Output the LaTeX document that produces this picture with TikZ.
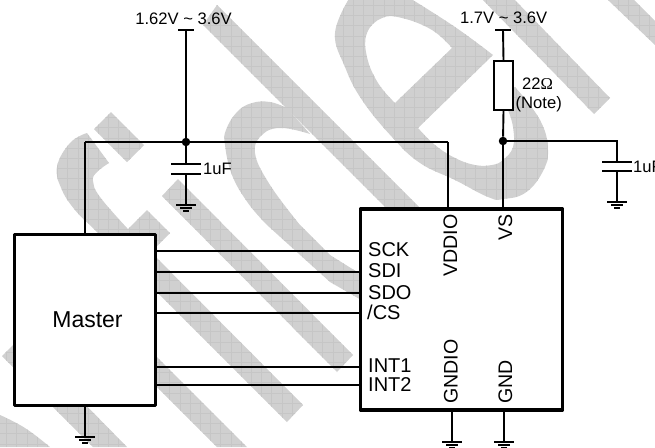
\documentclass[tikz,border=0pt]{standalone}
\usepackage{fontspec}
\setmainfont{Liberation Sans}
\newfontfamily\omegafont{Liberation Serif}
\newcommand{\tildesym}{\char"007E\relax}
\newcommand{\wmgrid}{%
  \foreach \i in {0,...,63}{\draw[wmline] ({6.6+10.2*\i},0) -- ({6.6+10.2*\i},447);}%
  \foreach \i in {0,...,43}{\draw[wmline] (0,{5.4+10.2*\i}) -- (655,{5.4+10.2*\i});}%
}
\newcommand{\wmshape}[1]{%
  \fill[wmfill,even odd rule] #1;%
  \begin{scope}[even odd rule]\clip #1;\wmgrid\end{scope}%
}
\newcommand{\gndsym}[1]{%
  \draw[gndline] ([xshift=-10pt]#1) -- ([xshift=10pt]#1);%
  \draw[gndline] ([xshift=-6pt,yshift=-3pt]#1) -- ([xshift=6pt,yshift=-3pt]#1);%
  \draw[gndline] ([xshift=-3pt,yshift=-6pt]#1) -- ([xshift=3pt,yshift=-6pt]#1);%
}
\newcommand{\capsym}[2]{%
  \draw[plate] ([xshift=-15pt]#1) -- ([xshift=15pt]#1);%
  \draw[plate] ([xshift=-15pt]#2) -- ([xshift=15pt]#2);%
}
\begin{document}
\begin{tikzpicture}[x=1pt,y=-1pt,
  wmfill/.style={fill={rgb,255:red,208;green,208;blue,208}},
  wmline/.style={draw={rgb,255:red,198;green,198;blue,198},line width=0.7pt},
  wire/.style={draw=black,line width=1.9pt},
  sigwire/.style={draw=black,line width=1.6pt},
  plate/.style={draw=black,line width=2.1pt},
  gndline/.style={draw=black,line width=1.1pt},
  box/.style={draw=black,line width=3.4pt,fill=white,line join=round,inner sep=0pt},
  resbox/.style={draw=black,line width=1.8pt,fill=white,inner sep=0pt,minimum width=19pt,minimum height=49pt},
  dotnode/.style={circle,fill=black,inner sep=0pt,minimum size=8.5pt},
  txt/.style={inner sep=0pt,font=\fontsize{16.6}{18}\selectfont},
  pin/.style={inner sep=0pt,font=\fontsize{20}{22}\selectfont},
  vpin/.style={inner sep=0pt,rotate=90,anchor=base west,font=\fontsize{19.6}{22}\selectfont},
  smp/.style={smooth,tension=0.7}
]
\useasboundingbox (0,0) rectangle (655,447);
\fill[white] (0,0) rectangle (655,447);
\begin{scope}
\clip (0,0) rectangle (655,447);
% watermark
\wmshape{(111,112) -- (144,145) -- (127,162) -- (94,129) -- cycle}
\wmshape{(147,210) -- (170,233) -- (146,257) -- (123,234) -- cycle}
\wmshape{(178,179) -- (353,355) -- (337,372) -- (162,196) -- cycle}
\wmshape{(87,133) -- plot[smp] coordinates {(87,133) (70,143) (57,167) (62,190) (75,210) (90,225)} -- (287,422) -- (303,405) -- (127,228) -- plot[smp] coordinates {(127,228) (100,197) (93,181) (97,172) (109,163)} -- cycle}
\wmshape{(140,340) -- (247,447) -- (217,447) -- (140,370) -- cycle}
\wmshape{(2,356) -- (20,338) -- (127,447) -- (93,447) -- cycle}
\wmshape{(0,415) -- plot[smp] coordinates {(0,415) (25,428) (50,447)} -- (0,447) -- cycle}
\wmshape{(217,5) -- (421,209) -- (387,209) -- (203,25) -- cycle}
\wmshape{(287,108) -- plot[smp] coordinates {(287,108) (270,102) (252,103) (237,112) (226,130) (225,145) (232,175) (248,203) (267,225)} -- (330,282) -- (370,305) -- (370,280) -- (330,255) -- plot[smp] coordinates {(300,225) (270,185) (255,153) (263,134) (282,128) (310,134)} -- cycle}
\wmshape{(350,-3) -- plot[smp] coordinates {(350,-3) (335,33) (345,67) (362,100) (392,137) (420,163) (455,180) (488,197) (503,199) (525,193) (542,173) (548,150) (540,120) (515,87)} -- (497,105) -- plot[smp] coordinates {(508,110) (513,127) (513,147) (503,160) (492,165) (475,165) (455,158) (435,145) (418,128)} -- (493,55) -- plot[smp] coordinates {(493,55) (455,27) (408,-3)} -- cycle (395,103) -- (452,48) -- plot[smp] coordinates {(452,48) (432,30) (402,18) (382,18) (367,33) (367,57) (378,83) (395,103)} -- cycle}
\wmshape{(480,-3) -- (512,-3) -- (610,98) -- (594,114) -- cycle}
\wmshape{(608,0) -- (634,0) -- (655,21) -- (655,45) -- cycle}

% blocks
\node[box,minimum width=141pt,minimum height=171pt,anchor=center] (master) at (85,320) {};
\node[box,minimum width=202pt,minimum height=201pt,anchor=center] (chip) at (461.5,309.5) {};
\node[anchor=base,inner sep=0pt,font=\fontsize{23}{26}\selectfont] (mlabel) at (87.5,327) {Master};

% coordinates
\coordinate (t1) at (186,30);
\coordinate (t2) at (503,30);
\node[dotnode] (j1) at (186,142) {};
\node[dotnode] (j2) at (503,141) {};
\node[resbox] (r) at (503.5,85.5) {};
\coordinate (ml) at (85,142);
\coordinate (vd) at (448,142);
\coordinate (c1a) at (186,164);
\coordinate (c1b) at (186,174);
\coordinate (g1) at (186,205);
\coordinate (rc) at (617,141);
\coordinate (c2a) at (617,162);
\coordinate (c2b) at (617,171);
\coordinate (g2) at (617,202);
\coordinate (g3) at (85,437);
\coordinate (g4) at (452,442);
\coordinate (g5) at (504,442);
\coordinate (s1) at (360,251);
\coordinate (s2) at (360,272);
\coordinate (s3) at (360,293);
\coordinate (s4) at (360,313);
\coordinate (s5) at (360,367);
\coordinate (s6) at (360,385);

% supply
\draw[wire] (t1) -- (j1);
\draw[wire] ([xshift=-8pt]t1) -- ([xshift=8pt]t1);
\draw[wire] (ml) -- (vd);
\draw[wire] (ml) -- (ml |- master.north);
\draw[wire] (vd) -- (vd |- chip.north);
\draw[wire] (j1) -- (c1a);
\draw[wire] (c1b) -- (g1);
\capsym{c1a}{c1b}
\gndsym{g1}
\draw[wire] (t2) -- (r.north);
\draw[wire] ([xshift=-8pt]t2) -- ([xshift=8pt]t2);
\draw[wire] (r.south) -- (j2);
\draw[wire] (j2) -- (j2 |- chip.north);
\draw[sigwire] (j2) -- (rc) -- (c2a);
\draw[wire] (c2b) -- (g2);
\capsym{c2a}{c2b}
\gndsym{g2}
\draw[wire] (master.south -| g3) -- (g3);
\gndsym{g3}
\draw[wire] (chip.south -| g4) -- (g4);
\gndsym{g4}
\draw[wire] (chip.south -| g5) -- (g5);
\gndsym{g5}
\foreach \s in {s1,s2,s3,s4,s5,s6}{\draw[sigwire] (master.east |- \s) -- (\s);}

% labels
\node[txt,anchor=base] (v1) at (183.5,24) {1.62V \tildesym{} 3.6V};
\node[txt,anchor=base] (v2) at (503.7,23) {1.7V \tildesym{} 3.6V};
\node[txt,anchor=base west] (ohm) at (522,89) {22{\omegafont Ω}};
\node[txt,anchor=base west] (note) at (515.5,108) {(Note)};
\node[txt,anchor=base west] (c1l) at (203,174.5) {1uF};
\node[txt,anchor=base west] (c2l) at (633,172) {1uF};
\node[pin,anchor=base west] (p1) at (368,256) {SCK};
\node[pin,anchor=base west] (p2) at (368,277) {SDI};
\node[pin,anchor=base west] (p3) at (368,299) {SDO};
\node[pin,anchor=base west] (p4) at (367,319) {/CS};
\node[pin,anchor=base west] (p5) at (368,372) {INT1};
\node[pin,anchor=base west] (p6) at (368,391) {INT2};
\node[vpin] (p7) at (457,277) {VDDIO};
\node[vpin] (p8) at (512,241) {VS};
\node[vpin] (p9) at (457.5,404) {GNDIO};
\node[vpin] (p10) at (512,404) {GND};
\end{scope}
\end{tikzpicture}
\end{document}
